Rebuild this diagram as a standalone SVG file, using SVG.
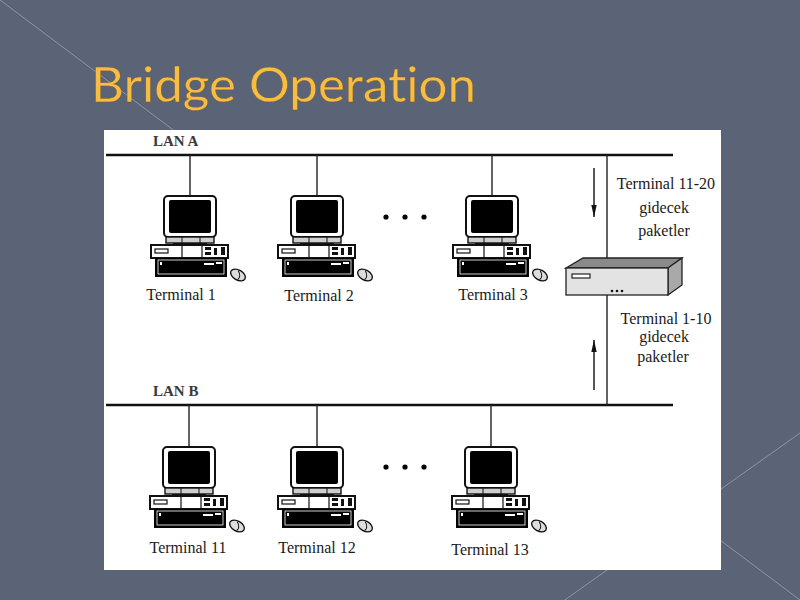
<svg xmlns="http://www.w3.org/2000/svg" xmlns:xlink="http://www.w3.org/1999/xlink" width="800" height="600" viewBox="0 0 800 600">
  <style>
    .lbl { font-family: "Liberation Serif", "Times New Roman", serif; font-size: 16px; fill: #1a1a1a; text-anchor: middle; }
    .lan { font-family: "Liberation Serif", "Times New Roman", serif; font-size: 15px; fill: #3a3a3a; font-weight: bold; }
    .bus { stroke: #111; stroke-width: 2.4; fill: none; }
    .drop { stroke: #222; stroke-width: 1.4; fill: none; }
    .arr { stroke: #111; stroke-width: 1.4; fill: none; }
    .bg-line { stroke: #8b94a8; stroke-width: 1; fill: none; }
    .title { font-family: Lato, "DejaVu Sans", sans-serif; font-size: 48px; font-weight: 400; fill: #f6bc44; stroke: #7a5a1a; stroke-width: 0.3; font-variant-ligatures: none; }
  </style>
  <defs>
    <marker id="ah2" viewBox="0 0 12 6" refX="12" refY="3" markerWidth="12" markerHeight="6" markerUnits="userSpaceOnUse" orient="auto">
      <path d="M0,0.3 L12,3 L0,5.7 Z" fill="#111"/>
    </marker>
    <symbol id="pc" overflow="visible">
      <rect x="-26" y="0" width="52" height="41" rx="4" fill="#fff" stroke="#111" stroke-width="2"/>
      <rect x="-21" y="4" width="42" height="33" rx="2" fill="#000"/>
      <rect x="-24" y="41" width="48" height="6" fill="#cfcfcf" stroke="#111" stroke-width="1.4"/>
      <line x1="-8" y1="41" x2="-8" y2="47" stroke="#111" stroke-width="1"/>
      <line x1="10" y1="41" x2="10" y2="47" stroke="#111" stroke-width="1"/>
      <rect x="-17" y="47" width="34" height="3" fill="#111"/>
      <rect x="-39" y="49" width="77" height="13" fill="#fff" stroke="#111" stroke-width="2"/>
      <rect x="-35" y="53" width="13" height="4" fill="#fff" stroke="#111" stroke-width="1.2"/>
      <line x1="-8" y1="49" x2="-8" y2="62" stroke="#111" stroke-width="1.2"/>
      <line x1="12" y1="49" x2="12" y2="62" stroke="#111" stroke-width="1.2"/>
      <rect x="15" y="51" width="6" height="3" fill="#111"/>
      <rect x="15" y="56" width="6" height="3" fill="#111"/>
      <rect x="24" y="52" width="3" height="7" fill="#111"/>
      <rect x="31" y="51" width="4" height="8" fill="#111"/>
      <rect x="-35" y="62" width="72" height="19" fill="#000"/>
      <rect x="-32" y="64" width="66" height="14" fill="none" stroke="#fff" stroke-width="0.8"/>
      <rect x="-30" y="66" width="2" height="3" fill="#fff"/>
      <rect x="14" y="67" width="10" height="2" fill="#fff"/>
      <rect x="26" y="66" width="6" height="2" fill="#fff"/>
      <g transform="translate(48 79) rotate(30)">
        <ellipse cx="0" cy="0" rx="8" ry="5" fill="#ddd" stroke="#111" stroke-width="1.4"/>
        <path d="M-2,-4 Q4,0 2,4" fill="none" stroke="#111" stroke-width="1"/>
      </g>
    </symbol>
  </defs>

  <!-- slide background -->
  <rect x="0" y="0" width="800" height="600" fill="#5b6377"/>
  <line class="bg-line" x1="0" y1="0" x2="800" y2="600"/>
  <line class="bg-line" x1="800" y1="433" x2="500" y2="646"/>

  <text class="title" x="91" y="102" textLength="385" lengthAdjust="spacingAndGlyphs">Bridge Operation</text>

  <!-- white panel -->
  <rect x="104" y="130" width="617" height="440" fill="#fff"/>

  <g id="connectors">
    <line class="bus" x1="106" y1="155" x2="673" y2="155"/>
    <line class="bus" x1="106" y1="405" x2="673" y2="405"/>
    <line class="drop" x1="190" y1="155" x2="190" y2="196"/>
    <line class="drop" x1="317" y1="155" x2="317" y2="196"/>
    <line class="drop" x1="492" y1="155" x2="492" y2="196"/>
    <line class="drop" x1="189" y1="405" x2="189" y2="447"/>
    <line class="drop" x1="317" y1="405" x2="317" y2="447"/>
    <line class="drop" x1="491" y1="405" x2="491" y2="447"/>
    <line class="drop" x1="607" y1="155" x2="607" y2="405"/>
    <line class="arr" x1="594" y1="168" x2="594" y2="217" marker-end="url(#ah2)"/>
    <line class="arr" x1="594" y1="390" x2="594" y2="340" marker-end="url(#ah2)"/>
  </g>

  <g id="lan-a"><text class="lan" x="153" y="146">LAN A</text></g>
  <g id="lan-b"><text class="lan" x="153" y="396">LAN B</text></g>

  <g id="terminal-1"><use xlink:href="#pc" x="190" y="196"/><text class="lbl" x="181" y="300">Terminal 1</text></g>
  <g id="terminal-2"><use xlink:href="#pc" x="317" y="196"/><text class="lbl" x="319" y="301">Terminal 2</text></g>
  <g id="terminal-3"><use xlink:href="#pc" x="492" y="196"/><text class="lbl" x="493" y="300">Terminal 3</text></g>
  <g id="terminal-11"><use xlink:href="#pc" x="189" y="447"/><text class="lbl" x="188" y="553">Terminal 11</text></g>
  <g id="terminal-12"><use xlink:href="#pc" x="317" y="447"/><text class="lbl" x="317" y="553">Terminal 12</text></g>
  <g id="terminal-13"><use xlink:href="#pc" x="491" y="447"/><text class="lbl" x="490" y="555">Terminal 13</text></g>

  <g id="dots-a" fill="#000">
    <circle cx="386" cy="217" r="2.6"/><circle cx="405" cy="217" r="2.6"/><circle cx="424" cy="217" r="2.6"/>
  </g>
  <g id="dots-b" fill="#000">
    <circle cx="386" cy="467" r="2.6"/><circle cx="405" cy="467" r="2.6"/><circle cx="424" cy="467" r="2.6"/>
  </g>

  <g id="bridge">
    <polygon points="566,268 583,258 682,258 668,268" fill="#8a8a8a" stroke="#222" stroke-width="1.3"/>
    <polygon points="668,268 682,258 682,285 668,295" fill="#a9a9a9" stroke="#222" stroke-width="1.3"/>
    <rect x="566" y="268" width="102" height="27" fill="#e3e3e3" stroke="#222" stroke-width="1.3"/>
    <rect x="572" y="274" width="18" height="4" fill="#fff" stroke="#222" stroke-width="1.2"/>
    <circle cx="612" cy="291" r="1.3" fill="#111"/><circle cx="617" cy="291" r="1.3" fill="#111"/><circle cx="622" cy="291" r="1.3" fill="#111"/>
  </g>

  <g id="label-down">
    <text class="lbl" x="666" y="189">Terminal 11-20</text>
    <text class="lbl" x="664" y="213">gidecek</text>
    <text class="lbl" x="664" y="236">paketler</text>
  </g>
  <g id="label-up">
    <text class="lbl" x="666" y="324">Terminal 1-10</text>
    <text class="lbl" x="664" y="342">gidecek</text>
    <text class="lbl" x="663" y="362">paketler</text>
  </g>
</svg>
